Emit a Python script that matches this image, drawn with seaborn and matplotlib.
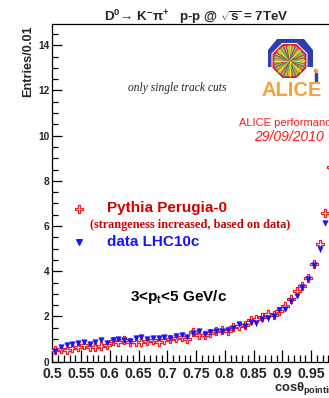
import numpy as np
import matplotlib
matplotlib.use("Agg")
import matplotlib.pyplot as plt
import seaborn as sns
from matplotlib.patches import Polygon, Circle, Rectangle
from matplotlib.ticker import MultipleLocator, FuncFormatter

# cos(theta_pointing) bin centres (bin width 0.01)
bin_centers = [0.505, 0.515, 0.525, 0.535, 0.545, 0.555, 0.565, 0.575, 0.585, 0.595,
               0.605, 0.615, 0.625, 0.635, 0.645, 0.655, 0.665, 0.675, 0.685, 0.695,
               0.705, 0.715, 0.725, 0.735, 0.745, 0.755, 0.765, 0.775, 0.785, 0.795,
               0.805, 0.815, 0.825, 0.835, 0.845, 0.855, 0.865, 0.875, 0.885, 0.895,
               0.905, 0.915, 0.925, 0.935, 0.945, 0.955, 0.965, 0.975, 0.985]

# Pythia Perugia-0 (strangeness increased)
pythia = [0.52, 0.55, 0.50, 0.60, 0.67, 0.75, 0.67, 0.64, 0.70, 0.75,
          0.93, 0.89, 0.96, 0.85, 0.89, 0.85, 0.93, 0.96, 0.89, 0.96,
          1.00, 1.04, 1.08, 1.02, 1.30, 1.20, 1.18, 1.27, 1.35, 1.41,
          1.36, 1.52, 1.58, 1.62, 1.85, 1.90, 1.96, 2.10, 2.06, 2.25,
          2.48, 2.77, 3.11, 3.35, 3.72, 4.33, 5.19, 6.60, 8.60]

# data LHC10c
data_lhc10c = [0.49, 0.64, 0.74, 0.77, 0.82, 0.85, 0.78, 0.85, 0.96, 0.84,
               0.96, 1.00, 0.96, 0.93, 1.04, 1.08, 1.00, 1.04, 1.07, 1.08,
               1.07, 1.14, 1.18, 1.10, 1.27, 1.35, 1.22, 1.32, 1.38, 1.36,
               1.42, 1.48, 1.65, 1.56, 1.76, 1.72, 1.88, 1.93, 2.00, 2.30,
               2.35, 2.68, 2.92, 3.30, 3.65, 4.27, 4.98, 6.15, 8.40]

pythia_err = 0.08
data_err = 0.12

RED = "#ee2222"
BLUE = "#1515ff"

sns.set_style("ticks")
plt.rcParams["font.family"] = ["Liberation Sans", "DejaVu Sans"]
plt.rcParams["font.weight"] = "bold"
plt.rcParams["mathtext.fontset"] = "custom"
plt.rcParams["mathtext.rm"] = "Liberation Sans:bold"
plt.rcParams["mathtext.bf"] = "Liberation Sans:bold"
plt.rcParams["mathtext.it"] = "Liberation Sans:bold:italic"

W, H = 329, 398
fig = plt.figure(figsize=(W / 100, H / 100), dpi=100)
fig.patch.set_facecolor("white")


def fx(x):
    return x / W


def fy(y):
    return 1 - y / H


ax = fig.add_axes([fx(52.3), fy(361.7), 287.5 / W, 337.5 / H])
ax.set_xlim(0.5, 1.0)
ax.set_ylim(0, 14.93)

ax.errorbar(bin_centers, pythia, yerr=pythia_err, fmt="none", ecolor=RED,
            elinewidth=0.8, capsize=0, zorder=2)
ax.errorbar(bin_centers, data_lhc10c, yerr=data_err, fmt="none", ecolor=BLUE,
            elinewidth=0.8, capsize=0, zorder=2)
sns.scatterplot(x=bin_centers, y=pythia, marker="P", s=36, color="white",
                edgecolor=RED, linewidth=0.9, ax=ax, zorder=3)
sns.scatterplot(x=bin_centers, y=data_lhc10c, marker="v", s=16, color=BLUE,
                edgecolor=BLUE, linewidth=0.3, ax=ax, zorder=4)

ax.xaxis.set_major_locator(MultipleLocator(0.05))
ax.xaxis.set_minor_locator(MultipleLocator(0.01))
ax.yaxis.set_major_locator(MultipleLocator(2))
ax.yaxis.set_minor_locator(MultipleLocator(0.5))
# the label at 1.0 falls past the right edge of the canvas
ax.xaxis.set_major_formatter(FuncFormatter(lambda v, p: "" if v > 0.97 else "%g" % round(v, 3)))
ax.yaxis.set_major_formatter(FuncFormatter(lambda v, p: "%g" % round(v, 3)))
ax.tick_params(which="both", direction="in", top=False, right=False,
               color="black", width=0.9)
ax.tick_params(axis="x", which="major", length=9, labelsize=10.2, pad=3.6)
ax.tick_params(axis="x", which="minor", length=5)
ax.tick_params(axis="y", which="major", length=7, labelsize=7.3, pad=2)
ax.tick_params(axis="y", which="minor", length=4)
for sp in ax.spines.values():
    sp.set_visible(True)
    sp.set_color("black")
    sp.set_linewidth(0.9)
ax.set_xlabel("")
ax.set_ylabel("")

# titles and annotations
fig.text(fx(196.5), fy(20.5),
         r"D$^{\mathbf{0}}$→ K$^{\mathbf{-}}$π$^{\mathbf{+}}$   p-p @ $\mathbf{\sqrt{s}}$ = 7TeV",
         ha="center", va="baseline", fontsize=9.6, weight="bold")
fig.text(fx(28), fy(25), "Entries/0.01", rotation=90, ha="center", va="top",
         fontsize=9.2, weight="bold")
fig.text(fx(340), fy(391), r"cosθ$_{\mathbf{pointing}}$", ha="right", va="baseline",
         fontsize=9.3, weight="bold")
fig.text(fx(177.5), fy(88), "only single track cuts", ha="center", va="center",
         family="Liberation Serif", style="italic", weight="normal", fontsize=8.3,
         color="#222222")
fig.text(fx(239), fy(123), "ALICE performance", ha="left", va="center",
         fontsize=8, weight="normal", color="#ff1a1a")
fig.text(fx(289), fy(137), "29/09/2010", ha="center", va="center",
         fontsize=10, style="italic", weight="normal", color="#ff1a1a")

# legend
ax.scatter([(79 - 52.3) / 287.5], [(361.7 - 209) / 337.5], marker="P", s=36,
           facecolor="white", edgecolor=RED, linewidth=0.9,
           transform=ax.transAxes, clip_on=False, zorder=5)
ax.scatter([(79 - 52.3) / 287.5], [(361.7 - 242) / 337.5], marker="v", s=16,
           color=BLUE, transform=ax.transAxes, clip_on=False, zorder=5)
fig.text(fx(107), fy(208), "Pythia Perugia-0", ha="left", va="center",
         fontsize=11, weight="bold", color="#d00000")
fig.text(fx(190.5), fy(225), "(strangeness increased, based on data)",
         ha="center", va="center", family="Liberation Serif", weight="bold",
         fontsize=8.8, color="#cc0000")
fig.text(fx(107), fy(241.7), "data LHC10c", ha="left", va="center",
         fontsize=11, weight="bold", color=BLUE)
fig.text(fx(130), fy(297), r"3<p$_{\mathbf{t}}$<5 GeV/c", ha="left", va="center",
         fontsize=11, weight="bold", color="black")

# ALICE logo
lax = fig.add_axes([fx(258), fy(100), 71 / W, 64 / H])
lax.set_xlim(258, 329)
lax.set_ylim(100, 36)
lax.axis("off")
lax.add_patch(Polygon([(268, 67), (268, 50), (277, 39), (304, 39), (313, 50), (313, 67)],
                      closed=True, facecolor="#2b3fb0", edgecolor="none"))
cx, cy = 289.5, 61.0
ang = np.deg2rad(22.5 + 45 * np.arange(8))
outer = Polygon(np.column_stack([cx + 19.5 * np.cos(ang), cy + 19.5 * np.sin(ang)]),
                closed=True, facecolor="white", edgecolor="none")
lax.add_patch(outer)
octo = Polygon(np.column_stack([cx + 17.3 * np.cos(ang), cy + 17.3 * np.sin(ang)]),
               closed=True, facecolor="#c9b84a", edgecolor="#e3122a", linewidth=1.4)
lax.add_patch(octo)
ray_colors = ["#f0e020", "#40b040", "#f08020", "#3060d0", "#e03030", "#a0d040"]
for k, a in enumerate(np.linspace(0, 2 * np.pi, 48, endpoint=False)):
    ln, = lax.plot([cx, cx + 18 * np.cos(a + 0.05 * (k % 3))],
                   [cy, cy + 18 * np.sin(a + 0.05 * (k % 3))],
                   color=ray_colors[k % len(ray_colors)], linewidth=0.7)
    ln.set_clip_path(octo)
lax.add_patch(Circle((cx, cy), 2.6, color="#ff5a1a"))
lax.add_patch(Rectangle((314.5, 73), 2.5, 8, color="#2b3fb0"))
lax.add_patch(Circle((315.8, 71), 1.5, color="#f39a2a"))
lax.text(292, 90, "ALICE", ha="center", va="center", fontsize=14.5,
         weight="bold", color="#f7a13a")

fig.savefig("out.png", dpi=100, facecolor="white")
